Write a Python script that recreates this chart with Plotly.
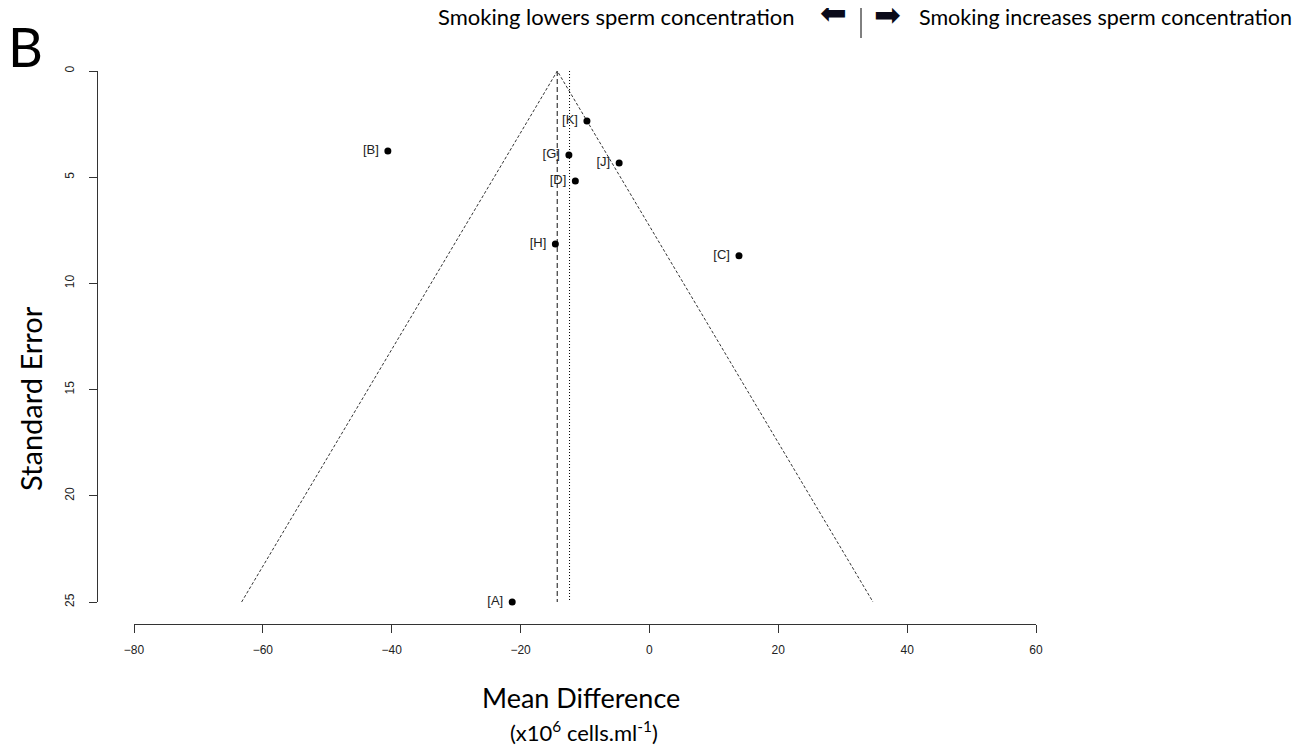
import plotly.graph_objects as go

# ---- data ----
study_labels = ["[A]", "[B]", "[C]", "[D]", "[G]", "[H]", "[J]", "[K]"]
mean_diff = [-21.3, -40.6, 13.9, -11.5, -12.5, -14.6, -4.7, -9.7]
std_error = [25.0, 3.77, 8.7, 5.18, 3.95, 8.15, 4.33, 2.35]
fixed_estimate = -14.3
random_estimate = -12.4
se_max = 25.0
x_ticks = [-80, -60, -40, -20, 0, 20, 40, 60]
y_ticks = [0, 5, 10, 15, 20, 25]

# page has an 8px body margin; work in screen pixels
OFF = 8
W, H = 1310 - OFF, 746 - OFF
L, T = 97 - OFF, 71 - OFF
R_EDGE = 1036 - OFF
B_EDGE = 624 - OFF
PW, PH = R_EDGE - L, B_EDGE - T


def px(x):
    return (x - OFF - L) / PW


def py(y):
    return (B_EDGE - (y - OFF)) / PH


fig = go.Figure()

z = 1.96
fig.add_trace(go.Scatter(
    x=[fixed_estimate - z * se_max, fixed_estimate, fixed_estimate + z * se_max],
    y=[se_max, 0, se_max],
    mode="lines", line=dict(color="black", width=0.8, dash="3px,2px"),
    hoverinfo="skip", showlegend=False))
fig.add_trace(go.Scatter(
    x=[fixed_estimate, fixed_estimate], y=[0, se_max],
    mode="lines", line=dict(color="#555555", width=1.4, dash="5px,3px"),
    hoverinfo="skip", showlegend=False))
fig.add_trace(go.Scatter(
    x=[random_estimate, random_estimate], y=[0, se_max],
    mode="lines", line=dict(color="black", width=1, dash="1px,2px"),
    hoverinfo="skip", showlegend=False))

fig.add_trace(go.Scatter(
    x=mean_diff, y=std_error, mode="markers+text",
    text=[s + " " for s in study_labels], textposition="middle left",
    textfont=dict(family="Liberation Sans, Arial", size=13, color="#222222"),
    marker=dict(color="black", size=7),
    cliponaxis=False, showlegend=False))

fig.update_layout(
    width=W, height=H,
    margin=dict(l=L, r=W - R_EDGE, t=T, b=H - B_EDGE, pad=0),
    plot_bgcolor="white", paper_bgcolor="white",
    xaxis=dict(
        domain=[px(134), 1], range=[-80, 60], tickvals=x_ticks,
        showgrid=False, zeroline=False, showline=True, linecolor="#333333",
        linewidth=1, ticks="outside", ticklen=8, tickcolor="#333333",
        ticklabelstandoff=7,
        tickfont=dict(family="Liberation Sans, Arial", size=12, color="#222222"),
        anchor="free", position=0),
    yaxis=dict(
        domain=[py(602), py(71)], range=[25, 0], tickvals=y_ticks,
        showgrid=False, zeroline=False, showline=True, linecolor="#333333",
        linewidth=1, ticks="outside", ticklen=8, tickcolor="#333333",
        tickangle=-90, ticklabelstandoff=10,
        tickfont=dict(family="Liberation Sans, Arial", size=12, color="#222222"),
        anchor="free", position=0),
)

FONT = "Lato, Open Sans, sans-serif"
ann = [
    dict(text="B", x=6, y=46, size=54, xanchor="left", angle=0),
    dict(text="Standard Error", x=30, y=399, size=29, xanchor="center", angle=-90),
    dict(text="Mean Difference", x=581, y=697, size=27, xanchor="center", angle=0),
    dict(text="(x10<sup>6</sup> cells.ml<sup>-1</sup>)", x=584, y=731, size=22, xanchor="center", angle=0),
    dict(text="Smoking lowers sperm concentration", x=797, y=17, size=22, xanchor="right", angle=0),
    dict(text="Smoking increases sperm concentration", x=917, y=17, size=21.5, xanchor="left", angle=0),
]
for a in ann:
    fig.add_annotation(
        text=a["text"], x=px(a["x"]), y=py(a["y"]),
        xref="paper", yref="paper", xanchor=a["xanchor"], yanchor="middle",
        showarrow=False, textangle=a["angle"],
        font=dict(size=a["size"], family=FONT, color="black"))

for glyph, gx, gy in [("⬅", 833, 13), ("➡", 887, 15)]:
    fig.add_annotation(
        text=glyph, x=px(gx), y=py(gy), xref="paper", yref="paper",
        xanchor="center", yanchor="middle", showarrow=False,
        font=dict(size=32, family="DejaVu Sans", color="#0a0a1a"))

# divider between the two header captions
fig.add_shape(type="line", xref="paper", yref="paper",
              x0=px(861), x1=px(861), y0=py(0), y1=py(38),
              line=dict(color="black", width=1))

fig.write_html("out.html")
